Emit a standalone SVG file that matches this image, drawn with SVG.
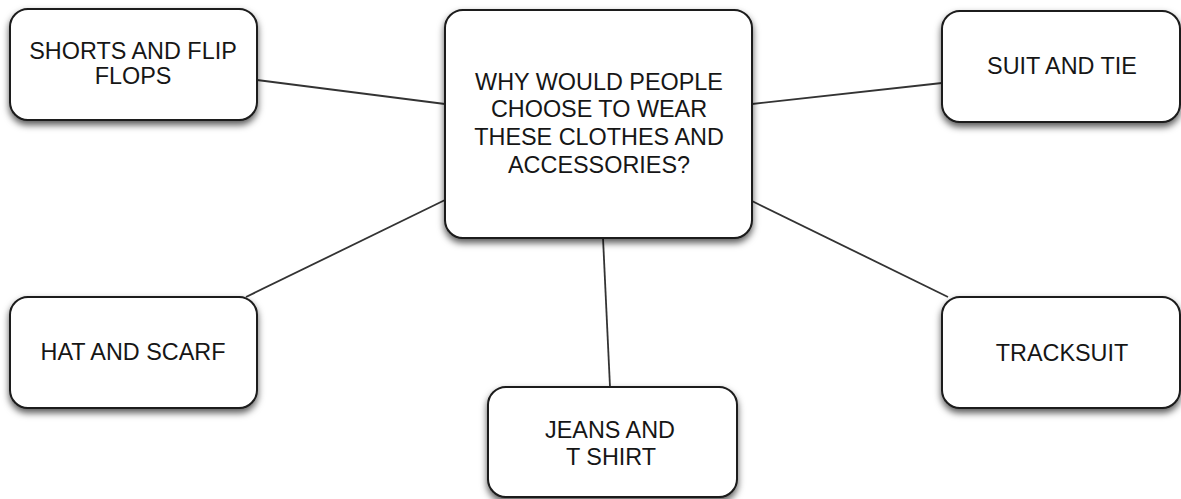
<svg xmlns="http://www.w3.org/2000/svg" width="1181" height="499" viewBox="0 0 1181 499">
<defs>
<filter id="sh" x="-10%" y="-10%" width="120%" height="130%">
<feDropShadow dx="0" dy="4" stdDeviation="3.5" flood-color="#000" flood-opacity="0.65"/>
</filter>
<style>
.box{fill:#fff;stroke:#1a1a1a;stroke-width:2;filter:url(#sh)}
.t{font-family:"Liberation Sans",Arial,Helvetica,sans-serif;font-size:23.4px;fill:#161616;text-anchor:middle}
.c{stroke:#333;stroke-width:1.8;fill:none}
</style>
</defs>
<rect width="1181" height="499" fill="#fff"/>
<g id="connectors">
<line class="c" x1="257" y1="80" x2="445" y2="104"/>
<line class="c" x1="752" y1="104" x2="942" y2="83"/>
<line class="c" x1="246" y1="297" x2="445" y2="200"/>
<line class="c" x1="752" y1="201" x2="948" y2="297"/>
<line class="c" x1="603" y1="238" x2="610" y2="387"/>
</g>
<g id="center">
<rect class="box" x="445" y="10" width="307" height="228" rx="18"/>
<text class="t" x="599" y="89.5">WHY WOULD PEOPLE</text>
<text class="t" x="599" y="117.3">CHOOSE TO WEAR</text>
<text class="t" x="599" y="145">THESE CLOTHES AND</text>
<text class="t" x="599" y="172.5">ACCESSORIES?</text>
</g>
<g id="shorts">
<rect class="box" x="10" y="9" width="247" height="111" rx="18"/>
<text class="t" x="133" y="58.5">SHORTS AND FLIP</text>
<text class="t" x="133" y="84">FLOPS</text>
</g>
<g id="suit">
<rect class="box" x="942" y="11" width="238" height="111" rx="18"/>
<text class="t" x="1062" y="74">SUIT AND TIE</text>
</g>
<g id="hat">
<rect class="box" x="10" y="297" width="247" height="111" rx="18"/>
<text class="t" x="133" y="359.5">HAT AND SCARF</text>
</g>
<g id="tracksuit">
<rect class="box" x="942" y="297" width="238" height="111" rx="18"/>
<text class="t" x="1062" y="361">TRACKSUIT</text>
</g>
<g id="jeans">
<rect class="box" x="488" y="387" width="249" height="110" rx="18"/>
<text class="t" x="610" y="438">JEANS AND</text>
<text class="t" x="611" y="465">T SHIRT</text>
</g>
</svg>
